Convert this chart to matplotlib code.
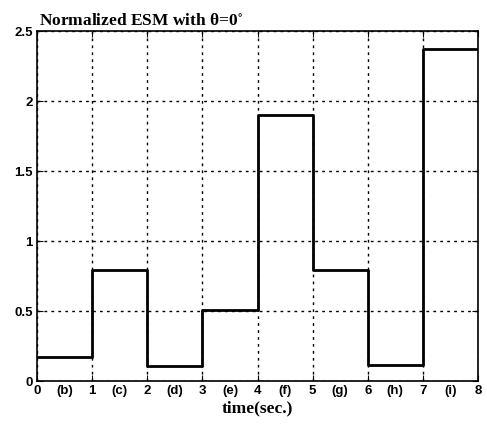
import numpy as np
import matplotlib
matplotlib.use('Agg')
from matplotlib import pyplot as plt

# step values of the normalized ESM for each 1 s interval
times = [0, 1, 2, 3, 4, 5, 6, 7, 8]
esm = [0.17, 0.79, 0.11, 0.51, 1.90, 0.79, 0.115, 2.37]
seg_labels = ['(b)', '(c)', '(d)', '(e)', '(f)', '(g)', '(h)', '(i)']
yticks = [0, 0.5, 1, 1.5, 2, 2.5]
ytick_labels = ['0', '0.5', '1', '1.5', '2', '2.5']

plt.rcParams['mathtext.fontset'] = 'stix'

fig = plt.figure(figsize=(4.87, 4.25), dpi=100)
ax = fig.add_axes([0.076, 0.1035, 0.9055, 0.8235])

# step line (repeat last value so the final segment reaches t=8)
ax.step(times, esm + [esm[-1]], where='post', color='black', lw=2)

ax.set_xlim(0, 8)
ax.set_ylim(0, 2.5)

ax.set_xticks(times)
ax.set_xticklabels([str(t) for t in times])
ax.set_xticks([t + 0.5 for t in times[:-1]], minor=True)
ax.set_xticklabels(seg_labels, minor=True)
ax.set_yticks(yticks)
ax.set_yticklabels(ytick_labels)

ax.tick_params(which='major', direction='in', length=4, top=True, right=True,
               labelsize=9.5, pad=3)
ax.tick_params(which='minor', length=0, labelsize=9.5, pad=3)
for lab in ax.get_xticklabels(which='both') + ax.get_yticklabels():
    lab.set_fontfamily('Liberation Sans')
    lab.set_fontweight('bold')

ax.grid(True, which='major', color='black', linestyle=(0, (2, 3)), lw=1)
for s in ax.spines.values():
    s.set_linewidth(1.2)

ax.set_xlabel('time(sec.)', fontfamily='Liberation Serif', fontweight='bold',
              fontsize=12.5, labelpad=2)
ax.set_title('Normalized ESM with \u03b8=0$^{\\circ}$', loc='left',
             fontfamily='Liberation Serif', fontweight='bold', fontsize=12.5,
             pad=4, x=0.005)

fig.savefig('out.png', dpi=100)
